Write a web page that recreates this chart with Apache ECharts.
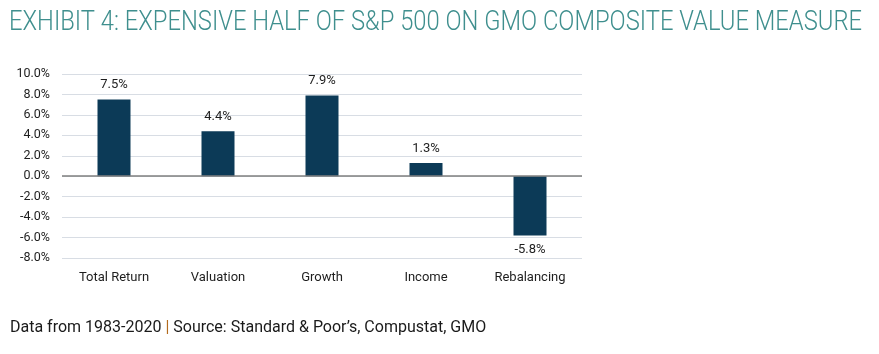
<!DOCTYPE html>
<html>
<head>
<meta charset="utf-8">
<script src="https://cdn.jsdelivr.net/npm/echarts@6/dist/echarts.min.js"></script>
<style>
  html, body { margin: 0; padding: 0; background: #fff; }
  #chart { width: 879px; height: 354px; }
</style>
</head>
<body>
<div id="chart"></div>
<script>
// 数据
var categories = ['Total Return', 'Valuation', 'Growth', 'Income', 'Rebalancing'];
var values = [7.5, 4.4, 7.9, 1.3, -5.8];
var yTicks = { min: -8, max: 10, interval: 2 };

var titleText = 'EXHIBIT 4: EXPENSIVE HALF OF S&P 500 ON GMO COMPOSITE VALUE MEASURE';
var titleFont = '300 27px Roboto';

// 标题宽度压缩成窄体效果
var ctx = document.createElement('canvas').getContext('2d');
ctx.font = titleFont;
var titleScale = 853 / ctx.measureText(titleText).width;

var chart = echarts.init(document.getElementById('chart'), null, { renderer: 'canvas' });

var option = {
  animation: false,
  grid: {
    left: 62,
    right: 297,
    top: 74,
    bottom: 96
  },
  xAxis: {
    type: 'category',
    data: categories,
    axisLine: { show: false, onZero: false },
    axisTick: { show: false },
    axisLabel: {
      color: '#1e1e1e',
      fontFamily: 'Roboto',
      fontSize: 13,
      margin: 13
    }
  },
  yAxis: {
    type: 'value',
    min: yTicks.min,
    max: yTicks.max,
    interval: yTicks.interval,
    axisLine: { show: false },
    axisTick: { show: false },
    axisLabel: {
      color: '#1e1e1e',
      fontFamily: 'Roboto',
      fontSize: 12.5,
      margin: 12,
      formatter: function (v) { return v.toFixed(1) + '%'; }
    },
    splitLine: {
      lineStyle: { color: '#d8dde4', width: 1 }
    }
  },
  series: [{
    type: 'bar',
    data: values.map(function (v) {
      return {
        value: v,
        label: { position: v >= 0 ? 'top' : 'bottom' }
      };
    }),
    barWidth: 33,
    itemStyle: { color: '#0c3a57' },
    label: {
      show: true,
      distance: 8,
      color: '#1e1e1e',
      fontFamily: 'Roboto',
      fontSize: 13,
      formatter: function (p) { return p.value.toFixed(1) + '%'; }
    },
    markLine: {
      silent: true,
      symbol: 'none',
      label: { show: false },
      lineStyle: { color: '#7f7f7f', width: 1.5, type: 'solid' },
      data: [{ yAxis: 0 }]
    }
  }],
  graphic: [
    {
      type: 'text',
      left: 9,
      top: 10,
      scaleX: titleScale,
      originX: 0,
      style: {
        text: titleText,
        font: titleFont,
        fill: '#3f8f8e'
      }
    },
    {
      type: 'text',
      left: 10,
      top: 320,
      style: {
        rich: {
          a: { fontFamily: 'Roboto', fontSize: 16, fill: '#1a1a1a', color: '#1a1a1a' },
          b: { fontFamily: 'Roboto', fontSize: 16, fill: '#b36b1e', color: '#b36b1e' }
        },
        text: '{a|Data from 1983-2020 }{b||}{a| Source: Standard & Poor\u2019s, Compustat, GMO}'
      }
    }
  ]
};

chart.setOption(option);
</script>
</body>
</html>
